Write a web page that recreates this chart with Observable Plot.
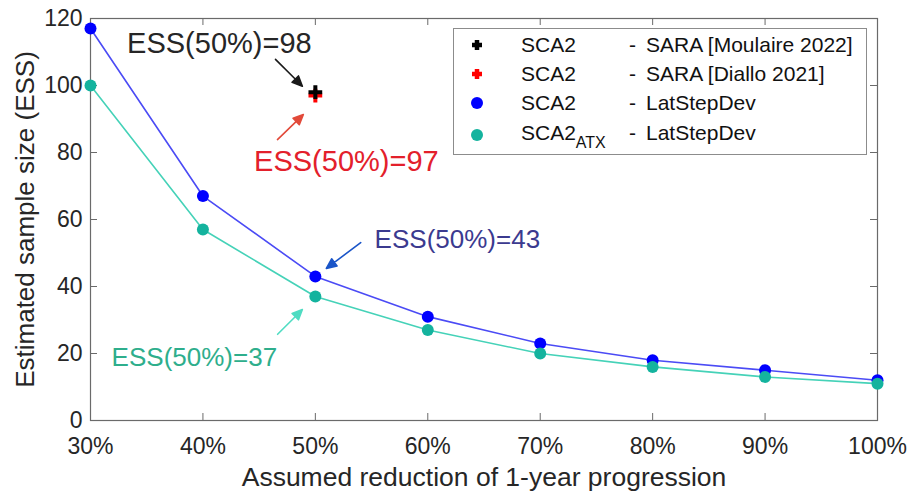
<!DOCTYPE html>
<html>
<head>
<meta charset="utf-8">
<script src="https://cdn.jsdelivr.net/npm/d3@7"></script>
<script src="https://cdn.jsdelivr.net/npm/@observablehq/plot@0.6"></script>
<style>
  body { margin: 0; background: #fff; }
  #wrap { position: relative; width: 908px; height: 492px; font-family: "Liberation Sans", Arial, sans-serif; }
  #legend { position: absolute; left: 453px; top: 28px; width: 414px; height: 127px; border: 1px solid #8c8c8c; background: #fff; box-sizing: border-box; }
  .row { position: absolute; left: 0; width: 100%; height: 28px; font-size: 21px; color: #111; }
  .row > * { position: absolute; top: 0; line-height: 28px; white-space: nowrap; }
  .row svg { left: 13px; top: 7px; }
  .c1 { left: 67px; }
  .c2 { left: 175px; }
  .c3 { left: 192px; }
  sub { font-size: 16px; vertical-align: -8px; line-height: 0; }
</style>
</head>
<body>
<div id="wrap"><div id="chart"></div><div id="legend"></div></div>
<script>
// ---- data ----
const reductions = [30, 40, 50, 60, 70, 80, 90, 100];
const essSCA2 = [117, 67, 43, 31, 23, 18, 15, 12];
const essATX = [100, 57, 37, 27, 20, 16, 13, 11];
const saraReduction = 50;
const essMoulaire = 98;
const essDiallo = 97;
const xTicks = [30, 40, 50, 60, 70, 80, 90, 100];
const yTicks = [0, 20, 40, 60, 80, 100, 120];
const legendNames = ["SCA2", "SCA2", "SCA2", "SCA2"];
const legendSubs = ["", "", "", "ATX"];
const legendMethods = ["SARA [Moulaire 2022]", "SARA [Diallo 2021]", "LatStepDev", "LatStepDev"];

// ---- tables ----
const sca2 = reductions.map((r, i) => ({x: r, y: essSCA2[i]}));
const atx = reductions.map((r, i) => ({x: r, y: essATX[i]}));
const atHalf = (v) => ({x: saraReduction, y: v});
const ess50 = (v) => `ESS(${saraReduction}%)=${v}`;

// annotation layout (pixel offsets from the annotated point)
const notes = [
  {pt: atHalf(essMoulaire), text: ess50(essMoulaire), color: "#262626", arrow: "#1a1a1a", fs: 29, tdx: -96, tdy: -48, adx: -13, ady: -6, rot: 135, len: 38},
  {pt: atHalf(essDiallo), text: ess50(essDiallo), color: "#e3202b", arrow: "#e24a3a", fs: 29, tdx: 31, tdy: 66, adx: -12, ady: 19, rot: 46, len: 36},
  {pt: atHalf(essSCA2[2]), text: ess50(essSCA2[2]), color: "#3b3a8f", arrow: "#1a55c8", fs: 26, tdx: 142, tdy: -37, adx: 11, ady: -8, rot: 233, len: 43},
  {pt: atHalf(essATX[2]), text: ess50(essATX[2]), color: "#2eae8c", arrow: "#4fdcc2", fs: 26, tdx: -121, tdy: 61, adx: -13, ady: 13, rot: 45, len: 35}
];

const arrowShape = {
  draw(context, l) {
    const h = 10, w = 4.5;
    context.moveTo(0, 0);
    context.lineTo(0, -l + h * 0.8);
    context.moveTo(0, -l);
    context.lineTo(-w, -l + h);
    context.lineTo(w, -l + h);
    context.closePath();
  }
};

const W = 908, H = 492, mL = 90, mR = 31, mT = 18, mB = 72;
const fw = W - mL - mR, fh = H - mT - mB, tl = 7;
const axisColor = "#6a6a6a";

const chart = Plot.plot({
  width: W, height: H,
  marginLeft: mL, marginRight: mR, marginTop: mT, marginBottom: mB,
  style: {fontFamily: "'Liberation Sans', Arial, sans-serif", background: "#fff", color: "#262626"},
  x: {domain: [30, 100], label: null},
  y: {domain: [0, 120], label: null},
  marks: [
    Plot.frame({stroke: axisColor, strokeWidth: 1.2}),
    Plot.ruleX(xTicks, {x: d => d, insetTop: fh - tl, stroke: axisColor}),
    Plot.ruleX(xTicks, {x: d => d, insetBottom: fh - tl, stroke: axisColor}),
    Plot.ruleY(yTicks, {y: d => d, insetRight: fw - tl, stroke: axisColor}),
    Plot.ruleY(yTicks, {y: d => d, insetLeft: fw - tl, stroke: axisColor}),
    Plot.axisX(xTicks, {tickSize: 0, tickPadding: 17, tickFormat: d => d + "%", fontSize: 23, fill: "#262626", label: null}),
    Plot.axisY(yTicks, {tickSize: 0, tickPadding: 8, fontSize: 23, fill: "#262626", label: null}),
    Plot.text(["Estimated sample size (ESS)"], {frameAnchor: "left", dx: -65, rotate: -90, textAnchor: "middle", lineAnchor: "middle", fontSize: 26, fill: "#262626"}),
    Plot.text(["Assumed reduction of 1-year progression"], {frameAnchor: "bottom", dy: 57, textAnchor: "middle", lineAnchor: "middle", fontSize: 26.5, fill: "#262626"}),
    Plot.line(sca2, {x: "x", y: "y", stroke: "#4b4bf5", strokeWidth: 1.6}),
    Plot.line(atx, {x: "x", y: "y", stroke: "#45d2b8", strokeWidth: 1.6}),
    Plot.dot(sca2, {x: "x", y: "y", r: 6, fill: "#0000ff"}),
    Plot.dot(atx, {x: "x", y: "y", r: 6, fill: "#14b39e"}),
    Plot.dot([atHalf(essDiallo)], {x: "x", y: "y", symbol: "plus", r: 4.5, stroke: "#ff0000", strokeWidth: 4}),
    Plot.dot([atHalf(essMoulaire)], {x: "x", y: "y", symbol: "plus", r: 4.5, stroke: "#000", strokeWidth: 4}),
    ...notes.flatMap(n => [
      Plot.text([n.pt], {x: "x", y: "y", text: () => n.text, dx: n.tdx, dy: n.tdy, fontSize: n.fs, fill: n.color}),
      Plot.vector([n.pt], {x: "x", y: "y", dx: n.adx, dy: n.ady, anchor: "end", rotate: n.rot, length: n.len, shape: arrowShape, stroke: n.arrow, fill: n.arrow, strokeWidth: 1.6})
    ])
  ]
});
document.getElementById("chart").appendChild(chart);

// ---- legend ----
const markers = [
  `<svg width="20" height="14" viewBox="-10 -7 20 14"><path d="M-5,0H5M0,-5V5" stroke="#000" stroke-width="4.5"/></svg>`,
  `<svg width="20" height="14" viewBox="-10 -7 20 14"><path d="M-5,0H5M0,-5V5" stroke="#ff0000" stroke-width="4.5"/></svg>`,
  `<svg width="20" height="14" viewBox="-10 -7 20 14"><circle r="6" fill="#0000ff"/></svg>`,
  `<svg width="20" height="14" viewBox="-10 -7 20 14"><circle r="6" fill="#14b39e"/></svg>`
];
const rowTops = [2, 31, 60, 90];
const markerShift = [0, 0, 0, 2];
const legend = document.getElementById("legend");
legendNames.forEach((name, i) => {
  const row = document.createElement("div");
  row.className = "row";
  row.style.top = rowTops[i] + "px";
  row.innerHTML = markers[i].replace('<svg ', `<svg style="top:${7 + markerShift[i]}px" `) +
    `<span class="c1">${name}${legendSubs[i] ? `<sub>${legendSubs[i]}</sub>` : ""}</span>` +
    `<span class="c2">-</span><span class="c3">${legendMethods[i]}</span>`;
  legend.appendChild(row);
});
</script>
</body>
</html>
